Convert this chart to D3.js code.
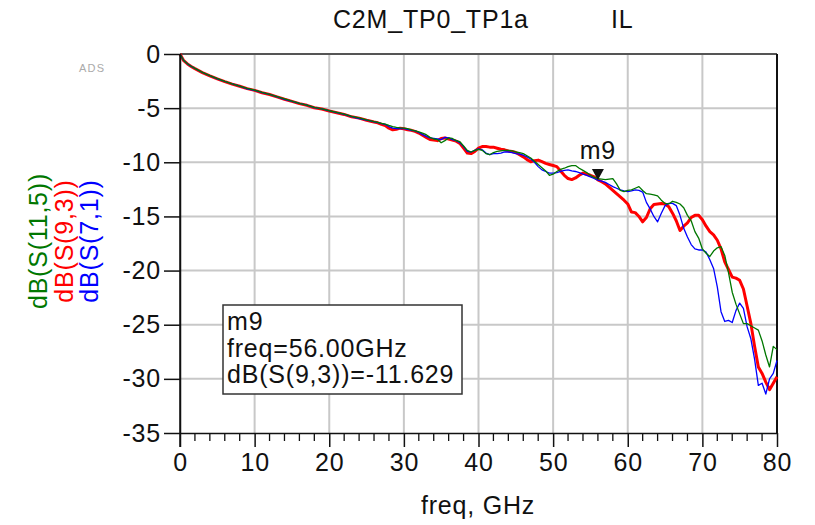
<!DOCTYPE html>
<html>
<head>
<meta charset="utf-8">
<script src="https://cdn.jsdelivr.net/npm/d3@7"></script>
<style>
  body { margin: 0; background: #fff; }
  svg text { font-family: "Liberation Sans", Arial, sans-serif; letter-spacing: 0.8px; }
</style>
</head>
<body>
<svg id="chart" width="815" height="525"></svg>
<script>
// sample grid, GHz
const freqGHz = [0, 0.5, 1, 1.5, 2, 3, 4, 5, 6, 7, 8, 9, 10, 11, 12, 13, 14, 15, 16, 17, 18, 19, 20, 21, 22, 23, 24, 25, 26,
  26.5, 27, 27.5, 28, 28.5, 29, 29.5, 30, 30.5, 31, 31.5, 32, 32.5, 33, 33.5, 34, 34.5, 35, 35.5, 36, 36.5, 37, 37.5, 38, 38.5, 39, 39.5,
  40, 40.5, 41, 41.5, 42, 42.5, 43, 43.5, 44, 44.5, 45, 45.5, 46, 46.5, 47, 47.5, 48, 48.5, 49, 49.5,
  50, 50.5, 51, 51.5, 52, 52.5, 53, 53.5, 54, 54.5, 55, 55.5, 56, 56.5, 57, 57.5, 58, 58.5, 59, 59.5,
  60, 60.5, 61, 61.5, 62, 62.5, 63, 63.5, 64, 64.5, 65, 65.5, 66, 66.5, 67, 67.5, 68, 68.5, 69, 69.5,
  70, 70.5, 71, 71.5, 72, 72.5, 73, 73.5, 74, 74.5, 75, 75.5, 76, 76.5, 77, 77.5, 78, 78.5, 79, 79.5, 80];

// dB(S(9,3))
const s93 = [0, -0.62, -0.92, -1.15, -1.35, -1.72, -2.02, -2.3, -2.55, -2.78, -2.98, -3.2, -3.36, -3.58, -3.74, -3.96, -4.18, -4.38, -4.58, -4.74, -4.96, -5.08, -5.26, -5.42, -5.58, -5.8, -5.92, -6.12, -6.28,
  -6.35, -6.5, -6.6, -6.85, -7.0, -6.95, -6.85, -6.9, -7.0, -7.05, -7.15, -7.3, -7.5, -7.7, -7.9, -7.95, -8.0, -7.8, -7.75, -7.85, -7.95, -8.05, -8.25, -8.7, -9.15, -9.2, -9.0,
  -8.7, -8.55, -8.55, -8.6, -8.6, -8.7, -8.8, -8.85, -8.95, -9.0, -9.1, -9.3, -9.5, -9.75, -9.95, -9.85, -9.8, -9.95, -10.1, -10.2,
  -10.3, -10.4, -10.8, -11.2, -11.5, -11.6, -11.45, -11.2, -11.0, -11.1, -11.2, -11.35, -11.629, -11.8, -12.0, -12.3, -12.6, -12.9, -13.2, -13.5,
  -13.85, -14.6, -14.65, -15.0, -15.5, -15.1, -14.3, -13.9, -13.85, -13.8, -13.85, -14.1, -14.7, -15.4, -16.3, -15.9, -15.6, -15.1, -14.9, -14.9,
  -15.3, -15.9, -16.4, -16.7, -17.2, -18.0, -19.2, -19.9, -20.6, -20.7, -20.9, -21.7, -23.3, -24.9, -27.0, -28.9, -29.5, -30.3, -31.0, -30.4, -29.8];

// dB(S(11,5))
const s115 = [0, -0.6, -0.9, -1.13, -1.33, -1.7, -2.0, -2.28, -2.53, -2.76, -2.96, -3.18, -3.34, -3.55, -3.72, -3.94, -4.15, -4.36, -4.55, -4.72, -4.93, -5.06, -5.24, -5.4, -5.56, -5.76, -5.9, -6.08, -6.24,
  -6.32, -6.4, -6.48, -6.6, -6.7, -6.78, -6.82, -6.85, -6.9, -7.0, -7.1, -7.2, -7.3, -7.45, -7.7, -7.85, -7.9, -8.2, -8.0, -7.75, -7.8, -8.0, -8.1, -8.5, -8.9, -9.05, -8.9,
  -8.8, -8.9, -9.2, -9.3, -9.1, -9.0, -8.95, -8.9, -8.9, -8.95, -9.05, -9.1, -9.2, -9.4, -9.6, -9.9, -10.2, -10.5, -10.8, -11.2,
  -11.1, -10.85, -10.65, -10.55, -10.4, -10.3, -10.3, -10.55, -10.75, -10.95, -11.2, -11.4, -11.5, -11.55, -11.6, -11.55, -11.5, -12.0, -12.6, -12.7,
  -12.6, -12.55, -12.4, -12.25, -12.6, -12.9, -12.95, -13.0, -13.1, -13.5, -13.8, -13.85, -13.6, -13.7, -13.85, -14.2, -14.9, -15.4, -16.4, -17.0,
  -18.0, -18.4, -18.7, -18.2, -17.9, -17.8, -18.6, -20.2, -22.0, -23.1, -24.0, -24.9, -24.9, -25.1, -25.3, -25.5, -26.5, -27.8, -28.9, -27.0, -27.3];

// dB(S(7,1))
const s71 = [0, -0.61, -0.91, -1.14, -1.34, -1.71, -2.01, -2.29, -2.54, -2.77, -2.97, -3.22, -3.35, -3.56, -3.73, -3.95, -4.2, -4.37, -4.57, -4.73, -4.95, -5.07, -5.25, -5.41, -5.57, -5.78, -5.96, -6.1, -6.26,
  -6.33, -6.42, -6.5, -6.7, -6.85, -6.9, -6.88, -6.9, -6.95, -7.05, -7.1, -7.25, -7.45, -7.6, -7.75, -7.8, -7.85, -7.9, -7.7, -7.75, -7.9, -8.0, -8.2, -8.55, -9.0, -9.05, -8.9,
  -8.75, -8.85, -9.15, -9.3, -9.2, -9.2, -9.15, -9.05, -9.05, -9.1, -9.2, -9.25, -9.35, -9.5, -9.7, -10.0, -10.4, -10.7, -10.85, -11.0,
  -11.0, -10.95, -10.85, -10.75, -10.7, -10.8, -10.85, -10.95, -11.1, -11.2, -11.35, -11.5, -11.65, -11.75, -11.85, -12.05, -12.25, -12.4, -12.55, -12.65,
  -12.7, -12.65, -12.55, -12.6, -12.75, -13.7, -14.3, -15.0, -15.5, -14.7, -14.0, -13.8, -13.8, -14.0, -14.9, -16.1, -16.9, -17.6, -18.0, -18.1,
  -18.1, -18.3, -19.0, -19.8, -21.5, -23.8, -24.7, -24.6, -24.8, -23.7, -23.0, -23.5, -25.2, -26.3, -28.2, -30.6, -30.4, -31.4, -30.0, -29.5, -28.3];

const xTicks = [0, 10, 20, 30, 40, 50, 60, 70, 80];
const xMinorTicks = [2, 4, 6, 8, 12, 14, 16, 18, 22, 24, 26, 28, 32, 34, 36, 38, 42, 44, 46, 48, 52, 54, 56, 58, 62, 64, 66, 68, 72, 74, 76, 78];
const yTicks = [0, -5, -10, -15, -20, -25, -30, -35];
const marker = { name: "m9", freq: 56, value: -11.629 };

const svg = d3.select("#chart");
const x = d3.scaleLinear().domain([0, 80]).range([180, 777]);
const y = d3.scaleLinear().domain([-35, 0]).range([433, 54]);

// grid
const grid = svg.append("g").attr("stroke", "#c8c8c8").attr("stroke-width", 2);
grid.selectAll(".gx").data(xTicks.slice(1, -1)).enter().append("line")
  .attr("x1", d => x(d)).attr("x2", d => x(d)).attr("y1", y(0)).attr("y2", y(-35));
grid.selectAll(".gy").data(yTicks.slice(1, -1)).enter().append("line")
  .attr("x1", x(0)).attr("x2", x(80)).attr("y1", d => y(d)).attr("y2", d => y(d));

// frame
svg.append("line").attr("x1", x(0)).attr("x2", x(80)).attr("y1", y(0)).attr("y2", y(0))
  .attr("stroke", "#555").attr("stroke-width", 2);
svg.append("line").attr("x1", x(80)).attr("x2", x(80)).attr("y1", y(0)).attr("y2", y(-35))
  .attr("stroke", "#111").attr("stroke-width", 2);

// curves: red underneath, thin ones on top
const series = [
  { values: s93, color: "#ff0000", width: 3 },
  { values: s71, color: "#0000ff", width: 1.3 },
  { values: s115, color: "#007700", width: 1.3 }
];
const line = d3.line().x(d => x(d[0])).y(d => y(d[1]));
svg.append("g").selectAll("path").data(series).enter().append("path")
  .attr("fill", "none")
  .attr("stroke", d => d.color)
  .attr("stroke-width", d => d.width)
  .attr("stroke-linejoin", "round")
  .attr("d", d => line(freqGHz.map((f, i) => [f, d.values[i]])));

// axes
const plain = d => String(d); // hyphen minus like the original, not U+2212
const xAxis = d3.axisBottom(x).tickValues(xTicks).tickFormat(plain).tickSize(14).tickPadding(6).tickSizeOuter(0);
const gx = svg.append("g").attr("transform", `translate(0,${y(-35)})`).call(xAxis);
svg.append("g").selectAll("line").data(xMinorTicks).enter().append("line")
  .attr("x1", d => x(d)).attr("x2", d => x(d)).attr("y1", y(-35)).attr("y2", y(-35) + 8)
  .attr("stroke", "#111").attr("stroke-width", 1.3);

const yAxis = d3.axisLeft(y).tickValues(yTicks).tickFormat(plain).tickSize(16).tickPadding(3).tickSizeOuter(0);
const gy = svg.append("g").attr("transform", `translate(${x(0)},0)`).call(yAxis);

[gx, gy].forEach(g => {
  g.select(".domain").attr("stroke", "#111").attr("stroke-width", 1.5);
  g.selectAll(".tick line").attr("stroke", "#111").attr("stroke-width", 1.5);
  g.selectAll(".tick text").attr("font-size", 25).attr("fill", "#111")
    .style("font-family", "'Liberation Sans', Arial, sans-serif");
});
// left axis runs down to the tick ends
svg.append("line").attr("x1", x(0)).attr("x2", x(0)).attr("y1", y(0)).attr("y2", y(-35) + 14)
  .attr("stroke", "#111").attr("stroke-width", 1.5);

// titles
svg.append("text").attr("x", 333).attr("y", 28).attr("font-size", 25).attr("fill", "#111").text("C2M_TP0_TP1a");
svg.append("text").attr("x", 611).attr("y", 28).attr("font-size", 25).attr("fill", "#111").text("IL");
svg.append("text").attr("x", 478).attr("y", 514).attr("text-anchor", "middle").attr("font-size", 25).attr("fill", "#111").text("freq, GHz");
svg.append("text").attr("x", 79).attr("y", 72).attr("font-size", 11).attr("fill", "#aaa")
  .style("letter-spacing", "1.2px").text("ADS");

const yLabels = [
  { text: "dB(S(11,5))", color: "#007700", x: 47 },
  { text: "dB(S(9,3))", color: "#ff0000", x: 73 },
  { text: "dB(S(7,1))", color: "#0000ff", x: 98 }
];
svg.append("g").selectAll("text").data(yLabels).enter().append("text")
  .attr("transform", d => `translate(${d.x},241) rotate(-90)`)
  .attr("text-anchor", "middle")
  .attr("font-size", 25)
  .attr("fill", d => d.color)
  .text(d => d.text);

// marker
const mx = x(marker.freq), my = y(marker.value);
svg.append("path")
  .attr("d", `M${mx - 6},${my - 11}L${mx + 6},${my - 11}L${mx},${my}Z`)
  .attr("fill", "#111");
svg.append("text").attr("x", mx).attr("y", my - 21).attr("text-anchor", "middle")
  .attr("font-size", 25).attr("fill", "#111").text(marker.name);

// marker readout box
const box = svg.append("g").attr("transform", "translate(223,305)");
box.append("rect").attr("width", 239).attr("height", 89)
  .attr("fill", "#fff").attr("stroke", "#333").attr("stroke-width", 1.5);
[marker.name, `freq=${marker.freq.toFixed(2)}GHz`, `dB(S(9,3))=${marker.value.toFixed(3)}`].forEach((t, i) => {
  box.append("text").attr("x", 4).attr("y", 25 + i * 26.5).attr("font-size", 25).attr("fill", "#111").text(t);
});
</script>
</body>
</html>
